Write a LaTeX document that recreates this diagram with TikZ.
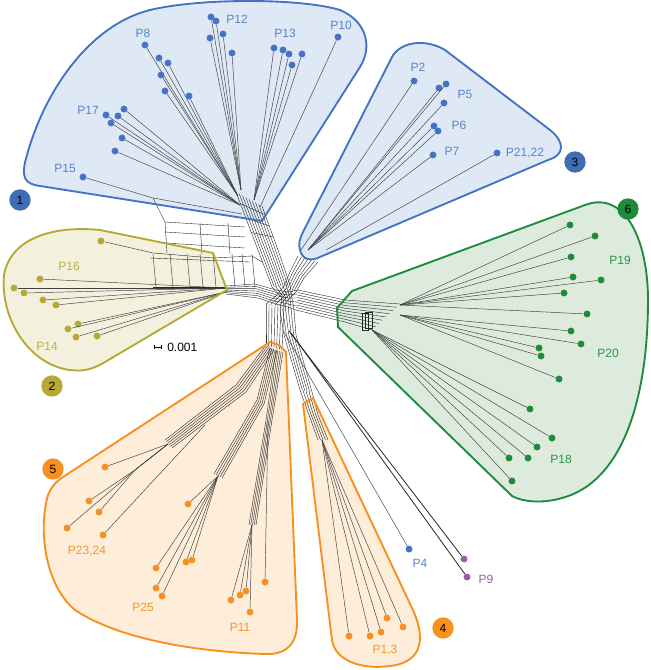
\documentclass[tikz,border=0pt]{standalone}
\usepackage{fontspec}
\setmainfont{Liberation Sans}
\usetikzlibrary{calc}
\definecolor{cBlue}{HTML}{4472C4}
\definecolor{cBlueFill}{HTML}{DFE9F6}
\definecolor{cBlueT}{HTML}{5783CB}
\definecolor{cBlueB}{HTML}{3E6DB5}
\definecolor{cOlive}{HTML}{B5A835}
\definecolor{cOliveFill}{HTML}{F3F1DD}
\definecolor{cOliveT}{HTML}{BDB045}
\definecolor{cGreen}{HTML}{1E8A3C}
\definecolor{cGreenFill}{HTML}{DDEBDC}
\definecolor{cGreenT}{HTML}{2A9446}
\definecolor{cOrange}{HTML}{F7901E}
\definecolor{cOrangeFill}{HTML}{FDEDD9}
\definecolor{cOrangeT}{HTML}{F7962A}
\definecolor{cPurple}{HTML}{9C5BA6}
\tikzset{
 net/.style={line width=0.3pt, black!85},
 leaf/.style={line width=0.35pt, black!75},
 dot/.style={circle, inner sep=0pt, minimum size=5.2pt, draw=none},
 lab/.style={font=\fontsize{9}{10}\selectfont, inner sep=0pt},
 badge/.style={circle, inner sep=0pt, minimum size=16pt, font=\fontsize{9}{10}\selectfont, text=black},
 hullline/.style={line width=1.4pt},
}
\newcommand\netband[7]{\foreach \k in {0,...,#1}{\pgfmathsetmacro\myt{\k/#1}\draw[net] ($#2!\myt!#5$) -- ($#3!\myt!#6$) -- ($#4!\myt!#7$);}}
\newcommand\hullone[1]{\path[#1] (262,221) -- (360,67) .. controls (372,48) and (368,22) .. (340,10) .. controls (300,-2) and (200,-2) .. (150,10) .. controls (90,25) and (45,90) .. (27,155) .. controls (20,178) and (25,184) .. (40,186) -- cycle;}
\newcommand\hullthree[1]{\path[#1] (300,250) .. controls (298,244) and (300,238) .. (303,232) -- (392,57) .. controls (400,42) and (425,38) .. (445,50) -- (550,130) .. controls (565,142) and (565,155) .. (548,160) -- (320,257) .. controls (310,262) and (302,259) .. (300,250) -- cycle;}
\newcommand\hulltwo[1]{\path[#1] (227,290) -- (213,253) -- (100,230) .. controls (50,225) and (10,240) .. (4,275) .. controls (0,320) and (30,365) .. (70,370) .. controls (85,372) and (95,368) .. (105,362) -- cycle;}
\newcommand\hullsix[1]{\path[#1] (337,308) -- (352,291) -- (585,205) .. controls (625,190) and (648,240) .. (648,300) .. controls (648,400) and (622,482) .. (562,498) .. controls (545,503) and (525,503) .. (512,496) -- (338,327) -- cycle;}
\newcommand\hullfive[1]{\path[#1] (270,342) -- (279,345) -- (286,352) -- (297,620) .. controls (298,645) and (285,655) .. (265,654) .. controls (200,652) and (120,640) .. (75,610) .. controls (45,585) and (38,530) .. (48,495) .. controls (52,485) and (58,480) .. (66,475) -- cycle;}
\newcommand\hullfour[1]{\path[#1] (303,404) -- (313,398) -- (412,608) .. controls (425,635) and (425,662) .. (390,666) .. controls (360,670) and (335,660) .. (332,640) -- cycle;}
\begin{document}
\begin{tikzpicture}[x=0.75pt,y=-0.75pt]
\useasboundingbox (0,0) rectangle (650,670);
% hull fills
\hullone{fill=cBlueFill}
\hullthree{fill=cBlueFill}
\hulltwo{fill=cOliveFill}
\hullsix{fill=cGreenFill}
\hullfive{fill=cOrangeFill}
\hullfour{fill=cOrangeFill}
% base coordinates
\coordinate (b1a) at (241,190);
\coordinate (b1b) at (254,200);
\coordinate (b1c) at (260,207);
\coordinate (b1d) at (238,196);
\coordinate (b1e) at (240,205);
\coordinate (b1f) at (242,214);
\coordinate (k15) at (153,198);
\coordinate (b2a) at (226,288);
\coordinate (b2b) at (226,292);
\coordinate (k16) at (153,253);
\coordinate (k16b) at (213,258);
\coordinate (b3a) at (301,250);
\coordinate (b3b) at (308,250);
\coordinate (b3c) at (326,250);
\coordinate (b6a) at (400,305);
\coordinate (b6b) at (400,315);
\coordinate (b6c) at (372,330);
\coordinate (b5a) at (168,444);
\coordinate (k5a) at (135,470);
\coordinate (b5b) at (218,476);
\coordinate (b5c) at (252,525);
\coordinate (b5d) at (268,420);
\coordinate (b5e) at (205,425);
\coordinate (b4) at (322,440);
\coordinate (b4p) at (284,332);
\coordinate (b9a) at (289,331);
\coordinate (b9b) at (291,333);
% network bands
\netband{8}{(236,192)}{(258,250)}{(272,287)}{(262,206)}{(278,250)}{(290,285)}
\foreach \s in {0.2,0.45,0.7} \draw[net] ($(236,192)!\s!(258,250)$) -- ($(262,206)!\s!(278,250)$);
\draw[net] (k15) -- (165,222) -- (167,253);
\foreach \yy in {222,232,243} \draw[net] (165,\yy) -- (245,{\yy+5});
\foreach \xx in {200,228} \draw[net] (\xx,223) -- ({\xx+2},254);
\draw[net] (k16) -- (k16b) -- (252,256) -- (262,262);
\draw[net] (150,258) -- (250,262);
\foreach \xx in {153,170,187,200,213,232,242,252} \draw[net] (\xx,254) -- ({\xx+3},287);
\draw[net] (153,287) -- (226,287);
\netband{6}{(226,286)}{(255,284)}{(276,290)}{(226,294)}{(258,298)}{(276,304)}
\netband{6}{(298,256)}{(290,272)}{(284,286)}{(318,262)}{(304,278)}{(296,292)}
\netband{8}{(298,290)}{(345,300)}{(400,304)}{(296,310)}{(345,322)}{(372,330)}
\draw[net] (362,313) rectangle (368,330);
\draw[net] (365,312) rectangle (372,328);
% hub connections
\netband{5}{(272,287)}{(282,298)}{(280,310)}{(290,285)}{(292,298)}{(294,310)}
\netband{5}{(276,290)}{(288,292)}{(298,290)}{(276,304)}{(288,307)}{(296,310)}
\netband{4}{(284,286)}{(276,296)}{(266,304)}{(296,292)}{(288,300)}{(284,306)}
\netband{6}{(266,304)}{(266,325)}{(266,345)}{(284,306)}{(283,328)}{(282,350)}
\netband{5}{(266,345)}{(236,385)}{(165,440)}{(274,350)}{(246,392)}{(172,448)}
\netband{4}{(270,348)}{(257,400)}{(214,474)}{(277,350)}{(264,404)}{(222,478)}
\netband{4}{(276,350)}{(266,420)}{(249,525)}{(283,352)}{(272,420)}{(256,525)}
\netband{5}{(280,310)}{(284,335)}{(300,390)}{(294,310)}{(296,335)}{(312,392)}
\netband{4}{(300,390)}{(309,415)}{(318,440)}{(312,392)}{(318,415)}{(328,440)}
% cluster 1 leaves
\foreach \x/\y/\b [count=\i] in {211/17/b1a,216/21/b1a,223/34/b1a,210/38/b1a,232/53/b1a,274/48/b1b,283/50/b1b,289/54/b1b,302/54/b1b,292/65/b1b,338/37/b1c,145/45/b1d,159/58/b1d,168/63/b1d,161/75/b1d,165/91/b1d,189/96/b1d,124/109/b1e,106/115/b1e,118/116/b1e,111/123/b1e,122/138/b1e,115/151/b1e}
 {\node[dot,fill=cBlue] (u\i) at (\x,\y) {}; \draw[leaf] (\b) -- (u\i);}
\node[dot,fill=cBlue] (u15) at (83,177) {};
\draw[leaf] (b1f) -- (k15) -- (u15);
% cluster 3 leaves
\foreach \x/\y/\b [count=\i] in {414/81/b3a,439/88/b3b,446/84/b3b,444/103/b3b,434/126/b3b,438/131/b3b,433/155/b3b,497/153/b3c}
 {\node[dot,fill=cBlue] (v\i) at (\x,\y) {}; \draw[leaf] (\b) -- (v\i);}
% cluster 2 leaves
\node[dot,fill=cOlive] (w0) at (101,241) {};
\draw[leaf] (k16) -- (w0);
\foreach \x/\y/\b [count=\i] in {40/279/b2a,14/288/b2a,24/293/b2a,43/300/b2a,56/305/b2a,78/324/b2b,68/329/b2b,76/337/b2b,97/336/b2b}
 {\node[dot,fill=cOlive] (w\i) at (\x,\y) {}; \draw[leaf] (\b) -- (w\i);}
% cluster 6 leaves
\foreach \x/\y/\b [count=\i] in {570/225/b6a,595/236/b6a,571/257/b6a,573/277/b6a,601/280/b6a,564/293/b6a,587/314/b6a,571/331/b6b,581/344/b6b,539/348/b6b,541/356/b6b,559/379/b6b,530/409/b6c,552/438/b6c,537/447/b6c,509/458/b6c,528/458/b6c,512/481/b6c}
 {\node[dot,fill=cGreen] (g\i) at (\x,\y) {}; \draw[leaf] (\b) -- (g\i);}
% cluster 5 leaves
\node[dot,fill=cOrange] (o1) at (105,467) {};
\draw[leaf] (b5a) -- (o1);
\foreach \x/\y [count=\i from 2] in {89/501,99/512,67/528}
 {\node[dot,fill=cOrange] (o\i) at (\x,\y) {}; \draw[leaf] (b5a) -- (k5a) -- (o\i);}
\node[dot,fill=cOrange] (o5) at (103,535) {};
\draw[leaf] (b5e) -- (o5);
\foreach \x/\y/\b [count=\i from 6] in {188/504/b5b,156/568/b5b,186/562/b5b,192/560/b5b,156/588/b5b,162/596/b5b,231/600/b5c,240/595/b5c,246/591/b5c,250/612/b5c,265/582/b5d}
 {\node[dot,fill=cOrange] (o\i) at (\x,\y) {}; \draw[leaf] (\b) -- (o\i);}
% cluster 4 leaves
\foreach \x/\y [count=\i] in {349/636,370/636,381/632,387/618,403/627}
 {\node[dot,fill=cOrange] (f\i) at (\x,\y) {}; \draw[leaf] (b4) -- (f\i);}
% P4, P9
\node[dot,fill=cBlue] (p4) at (409,549) {};
\draw[leaf] (b4p) -- (p4);
\node[dot,fill=cPurple] (p9a) at (464,559) {};
\node[dot,fill=cPurple] (p9b) at (467,577) {};
\draw[line width=0.6pt,black!85] (b9a) -- (p9a);
\draw[line width=0.6pt,black!85] (b9b) -- (p9b);
% hull outlines
\hullone{draw=cBlue,hullline}
\hullthree{draw=cBlue,hullline}
\hulltwo{draw=cOlive,hullline}
\hullsix{draw=cGreen,hullline}
\hullfive{draw=cOrange,hullline}
\hullfour{draw=cOrange,hullline}
% labels
\node[lab,text=cBlueT] (lP8) at (143,33) {P8};
\node[lab,text=cBlueT] (lP12) at (237,19) {P12};
\node[lab,text=cBlueT] (lP13) at (285,33) {P13};
\node[lab,text=cBlueT] (lP10) at (341,25) {P10};
\node[lab,text=cBlueT] (lP17) at (88,110) {P17};
\node[lab,text=cBlueT] (lP15) at (65,168) {P15};
\node[lab,text=cBlueT] (lP2) at (418,67) {P2};
\node[lab,text=cBlueT] (lP5) at (465,94) {P5};
\node[lab,text=cBlueT] (lP6) at (459,125) {P6};
\node[lab,text=cBlueT] (lP7) at (452,151) {P7};
\node[lab,text=cBlueT] (lP21) at (525,153) {P21,22};
\node[lab,text=cOliveT] (lP16) at (69,266) {P16};
\node[lab,text=cOliveT] (lP14) at (47,346) {P14};
\node[lab,text=cGreenT] (lP19) at (620,260) {P19};
\node[lab,text=cGreenT] (lP20) at (608,353) {P20};
\node[lab,text=cGreenT] (lP18) at (561,459) {P18};
\node[lab,text=cOrangeT] (lP23) at (87,551) {P23,24};
\node[lab,text=cOrangeT] (lP25) at (143,607) {P25};
\node[lab,text=cOrangeT] (lP11) at (240,627) {P11};
\node[lab,text=cOrangeT] (lP1) at (385,650) {P1,3};
\node[lab,text=cBlueT] (lP4) at (420,563) {P4};
\node[lab,text=cPurple] (lP9) at (486,579) {P9};
% badges
\node[badge,fill=cBlueB] (n1) at (20,200) {1};
\node[badge,fill=cOlive] (n2) at (52,386) {2};
\node[badge,fill=cBlueB] (n3) at (575,162) {3};
\node[badge,fill=cOrange] (n4) at (443,628) {4};
\node[badge,fill=cOrange] (n5) at (53,469) {5};
\node[badge,fill=cGreen] (n6) at (628,209) {6};
% scale bar
\coordinate (sb1) at (154,347);
\coordinate (sb2) at (161,347);
\draw[line width=0.7pt] (sb1) -- (sb2);
\draw[line width=0.5pt] ($(sb1)+(0,-2)$) -- ($(sb1)+(0,2)$);
\draw[line width=0.5pt] ($(sb2)+(0,-2)$) -- ($(sb2)+(0,2)$);
\node[lab,anchor=west] (sbt) at (167,347) {0.001};
\end{tikzpicture}
\end{document}
